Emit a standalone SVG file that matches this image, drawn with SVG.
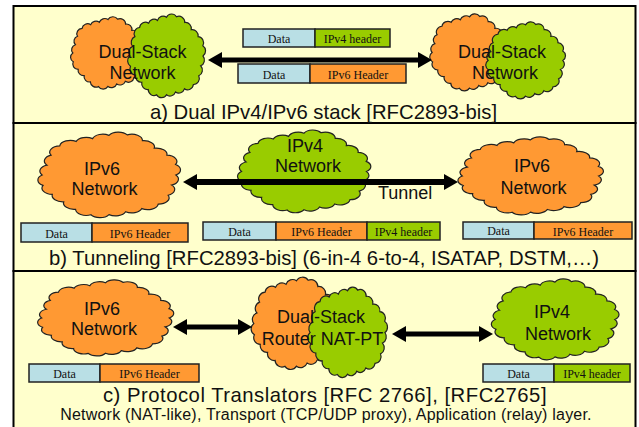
<svg xmlns="http://www.w3.org/2000/svg" xmlns:xlink="http://www.w3.org/1999/xlink" width="639" height="427" viewBox="0 0 639 427">
<style>
.panel{fill:#FFFFCC;stroke:#000;stroke-width:2}
.or{fill:#FF9933;stroke:#222;stroke-width:1.2}
.gr{fill:#99CC00;stroke:#222;stroke-width:1.2}
.lbl{font-family:"Liberation Sans",Arial,sans-serif;font-size:18px;fill:#111;text-anchor:middle}
.cap{font-family:"Liberation Sans",Arial,sans-serif;font-size:20.3px;fill:#111;text-anchor:middle}
.sub{font-family:"Liberation Sans",Arial,sans-serif;font-size:16px;letter-spacing:0.2px;fill:#111;text-anchor:middle}
.data{fill:#B9DFE5;stroke:#222;stroke-width:1.5}
.v4{fill:#99CC00;stroke:#222;stroke-width:1.5}
.v6{fill:#FF9933;stroke:#222;stroke-width:1.5}
.pt{font-family:"Liberation Serif","Times New Roman",serif;font-size:12px;fill:#111;text-anchor:middle}
.arr{stroke:#000;fill:none}
</style>
<defs>
<path id="cloud" vector-effect="non-scaling-stroke" d="M6,50 A7,7 0 0 1 9.2,39.1 A7,7 0 0 1 11.9,28 A7,7 0 0 1 17.6,17.6 A7,7 0 0 1 28.4,12.7 A7,7 0 0 1 39.2,9.6 A7,7 0 0 1 50,6 A7,7 0 0 1 62,5.4 A7,7 0 0 1 72,11.9 A7,7 0 0 1 79.8,20.2 A7,7 0 0 1 88.1,28 A7,7 0 0 1 93.8,38.3 A7,7 0 0 1 94,50 A7,7 0 0 1 91.2,61.1 A7,7 0 0 1 88.9,72.5 A7,7 0 0 1 82.4,82.4 A7,7 0 0 1 71.6,87.3 A7,7 0 0 1 60.9,90.8 A7,7 0 0 1 50,94 A7,7 0 0 1 38.1,94.2 A7,7 0 0 1 28,88.1 A7,7 0 0 1 20.2,79.8 A7,7 0 0 1 12.7,71.6 A7,7 0 0 1 6.6,61.6 A7,7 0 0 1 6,50 Z"/>
<marker id="ah" viewBox="0 0 14 16" markerWidth="14" markerHeight="16" refX="0" refY="8" orient="auto-start-reverse" markerUnits="userSpaceOnUse">
<path d="M0,0 L14,8 L0,16 Z" fill="#000"/>
</marker>
</defs>

<rect class="panel" x="13.5" y="6" width="622" height="117"/>
<rect class="panel" x="13.5" y="123" width="622" height="148"/>
<rect class="panel" x="13.5" y="271" width="622" height="165"/>

<!-- Panel a -->
<g id="a-left-dualstack">
<use xlink:href="#cloud" href="#cloud" class="or" transform="translate(68,15) scale(0.8,0.76)"/>
<use xlink:href="#cloud" href="#cloud" class="gr" transform="translate(125,12) scale(0.83,0.88)"/>
<text class="lbl" x="142.5" y="58">Dual-Stack</text>
<text class="lbl" x="142.5" y="79">Network</text>
</g>
<g id="a-right-dualstack">
<use xlink:href="#cloud" href="#cloud" class="or" transform="translate(427,12) scale(0.85,0.81)"/>
<use xlink:href="#cloud" href="#cloud" class="gr" transform="translate(483,20) scale(0.85,0.81)"/>
<text class="lbl" x="502" y="58">Dual-Stack</text>
<text class="lbl" x="505" y="79">Network</text>
</g>
<g id="a-packet-v4">
<rect class="data" x="243" y="29" width="72" height="18"/>
<rect class="v4" x="315" y="29" width="75" height="18"/>
<text class="pt" x="279" y="43">Data</text>
<text class="pt" x="352.5" y="43">IPv4 header</text>
</g>
<g id="a-packet-v6">
<rect class="data" x="238" y="64" width="72" height="19"/>
<rect class="v6" x="310" y="64" width="96" height="19"/>
<text class="pt" x="274" y="79">Data</text>
<text class="pt" x="358" y="79">IPv6 Header</text>
</g>
<text class="cap" x="323.5" y="119">a) Dual IPv4/IPv6 stack [RFC2893-bis]</text>

<!-- Panel b -->
<g id="b-left-ipv6">
<use xlink:href="#cloud" href="#cloud" class="or" transform="translate(33,130) scale(1.52,0.9)"/>
<text class="lbl" x="102" y="175">IPv6</text>
<text class="lbl" x="104.5" y="195">Network</text>
</g>
<g id="b-mid-ipv4">
<use xlink:href="#cloud" href="#cloud" class="gr" transform="translate(233,128) scale(1.42,0.87)"/>
<text class="lbl" x="305" y="152">IPv4</text>
<text class="lbl" x="308" y="172">Network</text>
</g>
<g id="b-right-ipv6">
<use xlink:href="#cloud" href="#cloud" class="or" transform="translate(453,135) scale(1.55,0.82)"/>
<text class="lbl" x="532" y="172">IPv6</text>
<text class="lbl" x="533.5" y="194">Network</text>
</g>
<g id="b-packet-left">
<rect class="data" x="21" y="223" width="71" height="19"/>
<rect class="v6" x="92" y="223" width="96" height="19"/>
<text class="pt" x="56.5" y="238">Data</text>
<text class="pt" x="140" y="238">IPv6 Header</text>
</g>
<g id="b-packet-mid">
<rect class="data" x="203" y="222" width="73" height="18"/>
<rect class="v6" x="276" y="222" width="91" height="18"/>
<rect class="v4" x="367" y="222" width="73" height="18"/>
<text class="pt" x="239.5" y="236">Data</text>
<text class="pt" x="321.5" y="236">IPv6 Header</text>
<text class="pt" x="403.5" y="236">IPv4 header</text>
</g>
<g id="b-packet-right">
<rect class="data" x="463" y="222" width="71" height="17"/>
<rect class="v6" x="534" y="222" width="98" height="17"/>
<text class="pt" x="498.5" y="235">Data</text>
<text class="pt" x="583" y="236">IPv6 Header</text>
</g>
<text class="cap" x="324" y="265">b) Tunneling [RFC2893-bis] (6-in-4 6-to-4, ISATAP, DSTM,…)</text>

<!-- Panel c -->
<g id="c-left-ipv6">
<use xlink:href="#cloud" href="#cloud" class="or" transform="translate(33,278) scale(1.45,0.8)"/>
<text class="lbl" x="102" y="315">IPv6</text>
<text class="lbl" x="104" y="335">Network</text>
</g>
<g id="c-router">
<use xlink:href="#cloud" href="#cloud" class="or" transform="translate(248,275) scale(0.97,0.97)"/>
<use xlink:href="#cloud" href="#cloud" class="gr" transform="translate(305,285) scale(0.85,0.95)"/>
<text class="lbl" x="321" y="323">Dual-Stack</text>
<text class="lbl" x="322.5" y="345">Router NAT-PT</text>
</g>
<g id="c-right-ipv4">
<use xlink:href="#cloud" href="#cloud" class="gr" transform="translate(487,277) scale(1.36,0.85)"/>
<text class="lbl" x="552" y="318">IPv4</text>
<text class="lbl" x="558" y="340">Network</text>
</g>
<g id="c-packet-left">
<rect class="data" x="29" y="364" width="71" height="18"/>
<rect class="v6" x="100" y="364" width="99" height="18"/>
<text class="pt" x="64.5" y="378">Data</text>
<text class="pt" x="149.5" y="378">IPv6 Header</text>
</g>
<g id="c-packet-right">
<rect class="data" x="483" y="364" width="71" height="18"/>
<rect class="v4" x="554" y="364" width="76" height="18"/>
<text class="pt" x="518.5" y="378">Data</text>
<text class="pt" x="592" y="378">IPv4 header</text>
</g>
<text class="cap" x="325" y="402" style="letter-spacing:0.5px">c) Protocol Translators [RFC 2766], [RFC2765]</text>
<text class="sub" x="326" y="420">Network (NAT-like), Transport (TCP/UDP proxy), Application (relay) layer.</text>

<g id="connectors">
<line class="arr" x1="222" y1="60" x2="418" y2="60" stroke-width="5" marker-start="url(#ah)" marker-end="url(#ah)"/>
<line class="arr" x1="197" y1="182" x2="444" y2="182" stroke-width="6" marker-start="url(#ah)" marker-end="url(#ah)"/>
<line class="arr" x1="187" y1="327" x2="238" y2="327" stroke-width="5" marker-start="url(#ah)" marker-end="url(#ah)"/>
<line class="arr" x1="406" y1="334" x2="479" y2="334" stroke-width="5" marker-start="url(#ah)" marker-end="url(#ah)"/>
</g>
<text class="lbl" x="378" y="199" style="text-anchor:start">Tunnel</text>
</svg>
